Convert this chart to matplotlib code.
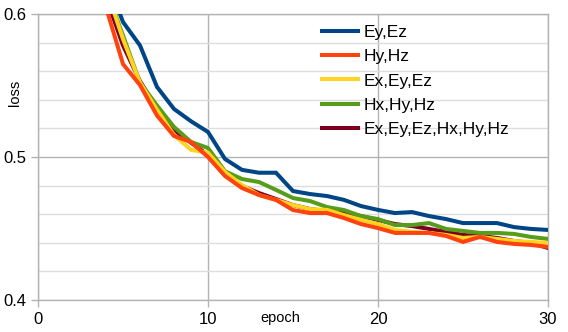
import matplotlib
matplotlib.use("Agg")
import matplotlib.pyplot as plt
import numpy as np

plt.rcParams['font.family'] = ['Liberation Sans', 'DejaVu Sans']

# loss per epoch (first epochs lie above the visible range)
epochs = list(range(1, 31))
ey_ez = [0.95, 0.78, 0.68, 0.626, 0.5944, 0.578, 0.549, 0.5336, 0.525, 0.5175,
         0.4986, 0.491, 0.489, 0.489, 0.4762, 0.4741, 0.4727, 0.470, 0.4657, 0.463,
         0.4608, 0.4615, 0.4587, 0.4566, 0.4538, 0.4538, 0.4538, 0.451, 0.4497, 0.449]
hy_hz = [0.92, 0.74, 0.65, 0.6047, 0.565, 0.5503, 0.529, 0.5147, 0.5105, 0.500,
         0.4867, 0.4783, 0.4734, 0.470, 0.4629, 0.4608, 0.4608, 0.4573, 0.4531, 0.4503,
         0.4469, 0.4469, 0.4469, 0.4448, 0.4406, 0.4441, 0.4406, 0.4392, 0.4385, 0.4371]
ex_ey_ez = [0.93, 0.76, 0.67, 0.618, 0.5825, 0.552, 0.533, 0.5154, 0.505, 0.503,
            0.4895, 0.4804, 0.4734, 0.470, 0.4664, 0.4636, 0.463, 0.4594, 0.456, 0.4531,
            0.449, 0.4476, 0.4469, 0.4455, 0.4434, 0.4441, 0.4427, 0.4413, 0.4406, 0.4399]
hx_hy_hz = [0.93, 0.76, 0.67, 0.617, 0.585, 0.552, 0.536, 0.521, 0.5105, 0.5063,
            0.490, 0.4846, 0.4825, 0.477, 0.4713, 0.4692, 0.465, 0.4629, 0.4587, 0.4566,
            0.4524, 0.4524, 0.4538, 0.4497, 0.4483, 0.4469, 0.4469, 0.4462, 0.4441, 0.4427]
all_fields = [0.93, 0.75, 0.66, 0.612, 0.578, 0.553, 0.534, 0.519, 0.510, 0.5014,
              0.4874, 0.4797, 0.4748, 0.4706, 0.4664, 0.4636, 0.4622, 0.4615, 0.4587, 0.456,
              0.4531, 0.4517, 0.4497, 0.4476, 0.4455, 0.4448, 0.4434, 0.4413, 0.4399, 0.4364]

series = [ey_ez, hy_hz, ex_ey_ez, hx_hy_hz, all_fields]
labels = ["Ey,Ez", "Hy,Hz", "Ex,Ey,Ez", "Hx,Hy,Hz", "Ex,Ey,Ez,Hx,Hy,Hz"]
colors = ["#004586", "#ff420e", "#ffd320", "#579d1c", "#7e0021"]

W, H = 568, 332
fig = plt.figure(figsize=(W / 100, H / 100), dpi=100)
ax = fig.add_axes([38 / W, 32 / H, 510 / W, 286 / H])

for i, (s, lab, c) in enumerate(zip(series, labels, colors)):
    ax.plot(epochs, s, color=c, lw=2.9, label=lab, zorder=10 - i,
            solid_joinstyle='miter')

ax.set_xlim(0, 30)
ax.set_ylim(0.4, 0.6)
ax.set_xticks([0, 10, 20, 30])
ax.set_yticks([0.4, 0.5, 0.6])
ax.set_yticklabels(["0.4", "0.5", "0.6"])
ax.set_yticks(np.arange(0.42, 0.6, 0.02), minor=True)

grey = "#b3b3b3"
ax.grid(True, which='major', color=grey, lw=1, zorder=0)
ax.grid(True, which='minor', axis='y', color="#dddddd", lw=1, zorder=0)
ax.set_axisbelow(True)
for sp in ax.spines.values():
    sp.set_color(grey)
    sp.set_linewidth(1)
ax.tick_params(which='major', length=5, width=1, color=grey, labelsize=12,
               pad=3.5, direction='out')
ax.tick_params(which='minor', length=0)

fig.text(15 / W, 1 - 93 / H, "loss", rotation=90, fontsize=10.5,
         ha='center', va='center')
fig.text(280 / W, 1 - 318 / H, "epoch", fontsize=10.5, ha='center', va='center')

leg = ax.legend(loc='upper left', bbox_to_anchor=(322 / W, 1 - 25 / H),
                bbox_transform=fig.transFigure, frameon=False, fontsize=12.5,
                borderpad=0, borderaxespad=0, handlelength=2.1,
                handletextpad=0.3, labelspacing=0.52)
leg.set_zorder(20)

fig.savefig("out.png", dpi=100)
